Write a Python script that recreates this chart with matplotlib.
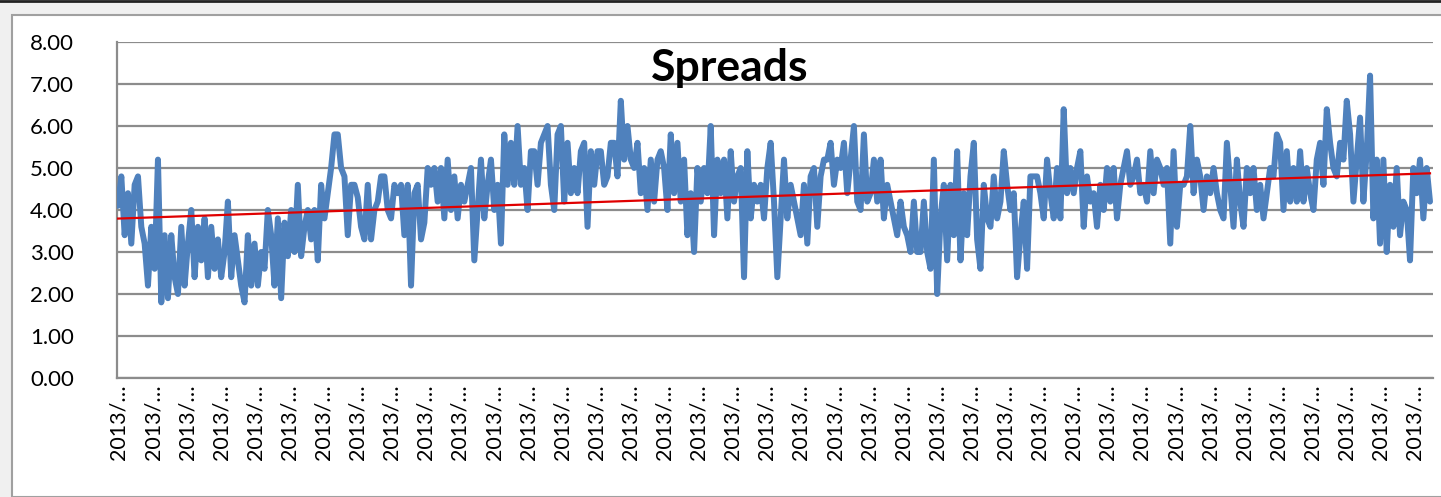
import numpy as np
import matplotlib
matplotlib.use("Agg")
import matplotlib.pyplot as plt
from matplotlib.patches import Rectangle
from matplotlib.lines import Line2D

plt.rcParams['font.family'] = ['Lato', 'DejaVu Sans']

# spread readings in chunks (left to right)
spreads_1 = [4.1, 4.8, 3.4, 4.4, 3.2, 4.6, 4.8, 3.6, 3.2, 2.2, 3.6, 2.6, 5.2, 1.8, 3.4, 1.9,
             3.4, 2.4, 2.0, 3.6, 2.2, 3.2, 4.0, 2.4, 3.6, 2.8, 3.8, 2.4, 3.6, 2.6, 3.3, 2.4,
             3.0, 4.2, 2.4, 3.4, 2.8, 2.2, 1.8, 3.4, 2.2, 3.2, 2.2, 3.0, 2.6, 4.0, 3.4, 2.2, 3.8]
spreads_2 = [1.9, 3.7, 2.9, 4.0, 3.0, 4.6, 2.9, 3.6, 4.0, 3.3, 4.0, 2.8, 4.6, 3.8, 4.4, 5.0,
             5.8, 5.8, 5.0, 4.8, 3.4, 4.6, 4.6, 4.3, 3.6, 3.3, 4.6, 3.3, 4.0, 4.2, 4.8, 4.8,
             4.0, 3.8, 4.6, 4.4, 4.6, 3.4, 4.6, 2.2, 4.4, 4.6, 3.3, 3.7, 5.0, 4.6, 5.0, 4.2]
spreads_3 = [5.0, 3.8, 5.2, 4.0, 4.8, 3.8, 4.6, 4.2, 4.6, 5.0, 2.8, 4.0, 5.2, 3.8, 4.6, 5.2,
             4.0, 4.6, 3.2, 5.8, 4.6, 5.6, 4.6, 6.0, 4.6, 5.0, 4.0, 5.4, 5.4, 4.6, 5.6, 5.8,
             6.0, 4.6, 4.0, 5.8, 6.0, 4.2, 5.6, 4.4, 5.0, 4.4, 5.4, 5.6, 3.6, 5.4, 4.6, 5.4]
spreads_4 = [5.4, 4.6, 4.8, 5.6, 5.6, 4.8, 6.6, 5.2, 6.0, 5.2, 5.0, 5.6, 4.4, 5.0, 4.0, 5.2,
             4.2, 5.2, 5.4, 5.0, 4.0, 5.8, 4.4, 5.6, 4.2, 5.2, 3.4, 4.4, 3.0, 5.0, 4.2, 5.0,
             4.4, 6.0, 3.4, 5.2, 4.4, 5.2, 3.8, 5.4, 4.2, 4.8, 5.0, 2.4, 5.4, 3.8, 4.6, 4.2]
spreads_5 = [4.6, 3.8, 5.0, 5.6, 4.2, 2.4, 3.8, 5.2, 3.8, 4.6, 4.2, 3.8, 3.4, 4.6, 3.2, 4.8,
             5.0, 3.6, 4.8, 5.2, 5.2, 5.6, 4.6, 5.2, 5.0, 5.6, 4.4, 5.2, 6.0, 4.2, 4.0, 5.8,
             4.2, 4.4, 5.2, 4.2, 5.2, 3.8, 4.6, 4.2, 3.8, 3.4, 4.2, 3.6, 3.4, 3.0, 4.2, 3.0]
spreads_6 = [3.0, 4.2, 3.0, 2.6, 5.2, 2.0, 3.8, 4.6, 2.8, 4.6, 3.4, 5.4, 2.8, 4.4, 3.4, 4.8,
             5.6, 3.3, 2.6, 4.6, 3.8, 3.6, 4.8, 3.8, 4.2, 5.4, 4.6, 4.0, 4.4, 2.4, 3.4, 4.2,
             2.6, 4.8, 4.8, 4.8, 4.4, 3.8, 5.2, 4.4, 3.8, 5.0, 3.8, 6.4, 4.4, 5.0, 4.4, 5.0]
spreads_7 = [5.4, 3.6, 4.8, 4.2, 4.4, 3.6, 4.6, 4.0, 5.0, 4.2, 5.0, 3.8, 4.6, 5.0, 5.4, 4.6,
             4.8, 5.2, 4.4, 4.6, 4.2, 5.4, 4.4, 5.2, 5.0, 4.6, 5.0, 3.2, 5.4, 3.6, 4.6, 4.6,
             4.8, 6.0, 4.4, 5.2, 4.8, 4.0, 4.8, 4.4, 5.0, 4.4, 4.0, 3.8, 5.6, 4.6, 3.6, 5.2]
spreads_8 = [4.2, 3.6, 5.0, 4.4, 5.0, 4.0, 4.6, 3.8, 4.4, 5.0, 4.8, 5.8, 5.6, 4.0, 5.4, 4.2,
             5.0, 4.2, 5.4, 4.2, 5.0, 4.4, 4.0, 5.2, 5.6, 4.6, 6.4, 5.6, 5.0, 4.8, 5.6, 5.2,
             6.6, 5.8, 4.2, 5.2, 6.2, 4.2, 5.4, 7.2, 3.8, 5.2, 3.2, 5.2, 3.0, 4.6, 3.6, 5.0,
             3.4, 4.2, 4.0, 2.8, 5.0, 4.4, 5.2, 3.8, 5.0, 4.2]

spreads = np.array(spreads_1 + spreads_2 + spreads_3 + spreads_4
                   + spreads_5 + spreads_6 + spreads_7 + spreads_8)
date_labels = ["2013/…"] * 39
y_ticks = [0, 1, 2, 3, 4, 5, 6, 7, 8]

W, H = 1441, 497
fig = plt.figure(figsize=(W / 100, H / 100), dpi=100)
fig.patch.set_facecolor('#f0f0f0')

# white chart panel with grey frame, dark line along the very top
fig.patches.append(Rectangle((12 / W, 0), 1.0, 1 - 15 / H, transform=fig.transFigure,
                             facecolor='white', edgecolor='#a0a0a0', lw=1.5, zorder=-5))
fig.lines.append(Line2D([0, 1], [1 - 1 / H, 1 - 1 / H], transform=fig.transFigure,
                        color='#222222', lw=2, zorder=-4))

ax = fig.add_axes([117 / W, 1 - 378 / H, (1433 - 117) / W, (378 - 42) / H])
ax.set_facecolor('none')

x = np.arange(len(spreads))
ax.plot(x, spreads, color='#4f81bd', lw=4.3, solid_joinstyle='round',
        solid_capstyle='round', zorder=3)

slope, icpt = np.polyfit(x, spreads, 1)
ax.plot(x, slope * x + icpt, color='#e00000', lw=1.6, zorder=4)

ax.set_ylim(0, 8)
ax.set_xlim(-0.3, len(spreads) - 0.1)
ax.set_yticks(y_ticks)
ax.set_yticklabels([f"{v:.2f}" for v in y_ticks], fontsize=16)
ax.yaxis.grid(True, color='#8c8c8c', lw=1.6)
ax.set_axisbelow(True)

ticks = np.linspace(0.3, 389.4, len(date_labels))
ax.set_xticks(ticks)
ax.set_xticklabels(date_labels, rotation=90, fontsize=15.5, va='top', ha='center')
ax.tick_params(axis='x', length=0, pad=5)
ax.tick_params(axis='y', length=0, pad=31)

for side in ['top', 'right']:
    ax.spines[side].set_visible(False)
for side in ['left', 'bottom']:
    ax.spines[side].set_color('#8c8c8c')
    ax.spines[side].set_linewidth(1.6)

fig.text(730 / W, 1 - 68 / H, "Spreads", fontsize=32, fontweight='bold',
         ha='center', va='center', zorder=10)

fig.savefig('out.png', dpi=100, facecolor=fig.get_facecolor())
